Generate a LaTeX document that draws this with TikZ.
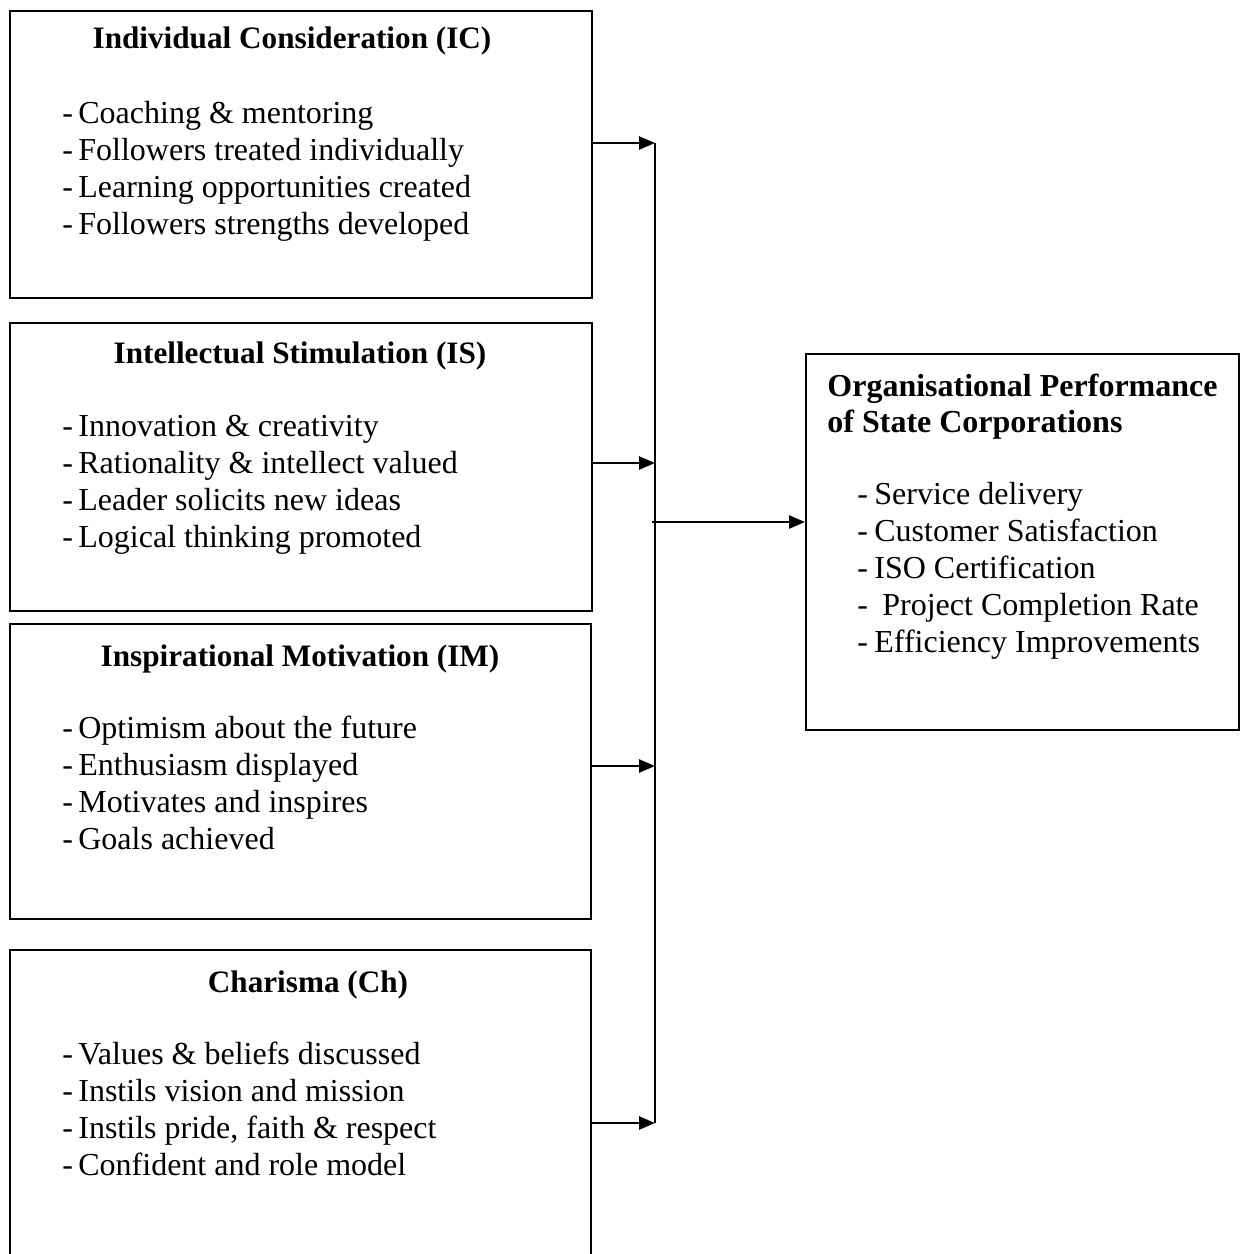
\documentclass[tikz,border=0pt]{standalone}
\usepackage{fontspec}
\setmainfont{Liberation Serif}
\usetikzlibrary{arrows.meta}
\tikzset{
  dimbox/.style={draw, line width=0.8pt, inner sep=0pt, anchor=north west},
  head/.style={font=\fontsize{15.6}{18.5}\selectfont\bfseries, anchor=base, inner sep=0pt},
  item/.style={font=\fontsize{16}{18.5}\selectfont, anchor=base west, inner sep=0pt},
  feed/.style={line width=1.3pt, -{Triangle[length=8pt,width=6.5pt]}},
}
\begin{document}
\begin{tikzpicture}[x=0.5pt,y=-0.5pt]
\clip (0,0) rectangle (1241,1254);
% boxes
\node[dimbox, minimum width=291pt, minimum height=143.5pt] (ic) at (9,10) {};
\node[dimbox, minimum width=291pt, minimum height=144pt] (is) at (9,322) {};
\node[dimbox, minimum width=290.5pt, minimum height=147.5pt] (im) at (9,623) {};
\node[dimbox, minimum width=290.5pt, minimum height=170pt] (ch) at (9,949) {};
\node[dimbox, minimum width=216.5pt, minimum height=188pt] (op) at (805,353) {};
% headings
\node[head] (ic-head) at (292,48) {Individual Consideration (IC)};
\node[head] (is-head) at (300,363) {Intellectual Stimulation (IS)};
\node[head] (im-head) at (300,666) {Inspirational Motivation (IM)};
\node[head] (ch-head) at (308,992) {Charisma (Ch)};
\node[head, font=\fontsize{16}{18.5}\selectfont\bfseries, anchor=base west] (op-head) at (827,396) {Organisational Performance};
\node[head, font=\fontsize{16}{18.5}\selectfont\bfseries, anchor=base west] (op-head2) at (827,432) {of State Corporations};
% items
\foreach \t [count=\i] in {Coaching \& mentoring, Followers treated individually,
    Learning opportunities created, Followers strengths developed}
  \node[item] (ic-\i) at (62,{86+37*\i}) {\makebox[8pt][l]{-}\t};
\foreach \t [count=\i] in {Innovation \& creativity, Rationality \& intellect valued,
    Leader solicits new ideas, Logical thinking promoted}
  \node[item] (is-\i) at (62,{399+37*\i}) {\makebox[8pt][l]{-}\t};
\foreach \t [count=\i] in {Optimism about the future, Enthusiasm displayed,
    Motivates and inspires, Goals achieved}
  \node[item] (im-\i) at (62,{701+37*\i}) {\makebox[8pt][l]{-}\t};
\foreach \t [count=\i] in {Values \& beliefs discussed, Instils vision and mission,
    {Instils pride, faith \& respect}, Confident and role model}
  \node[item] (ch-\i) at (62,{1027+37*\i}) {\makebox[8pt][l]{-}\t};
\foreach \t [count=\i] in {Service delivery, Customer Satisfaction, ISO Certification,
    \ Project Completion Rate, Efficiency Improvements}
  \node[item] (op-\i) at (857,{467+37*\i}) {\makebox[8.5pt][l]{-}\t};
% connectors
\coordinate (j-ic) at (655,143);
\coordinate (j-is) at (655,463);
\coordinate (j-im) at (655,766);
\coordinate (j-ch) at (655,1123);
\coordinate (j-op) at (652,522);
\draw[line width=0.8pt] (j-ic) -- (j-ch);
\draw[feed] (ic.east |- j-ic) -- (j-ic);
\draw[feed] (is.east |- j-is) -- (j-is);
\draw[feed] (im.east |- j-im) -- (j-im);
\draw[feed] (ch.east |- j-ch) -- (j-ch);
\draw[feed] (j-op) -- (op.west |- j-op);
\end{tikzpicture}
\end{document}
